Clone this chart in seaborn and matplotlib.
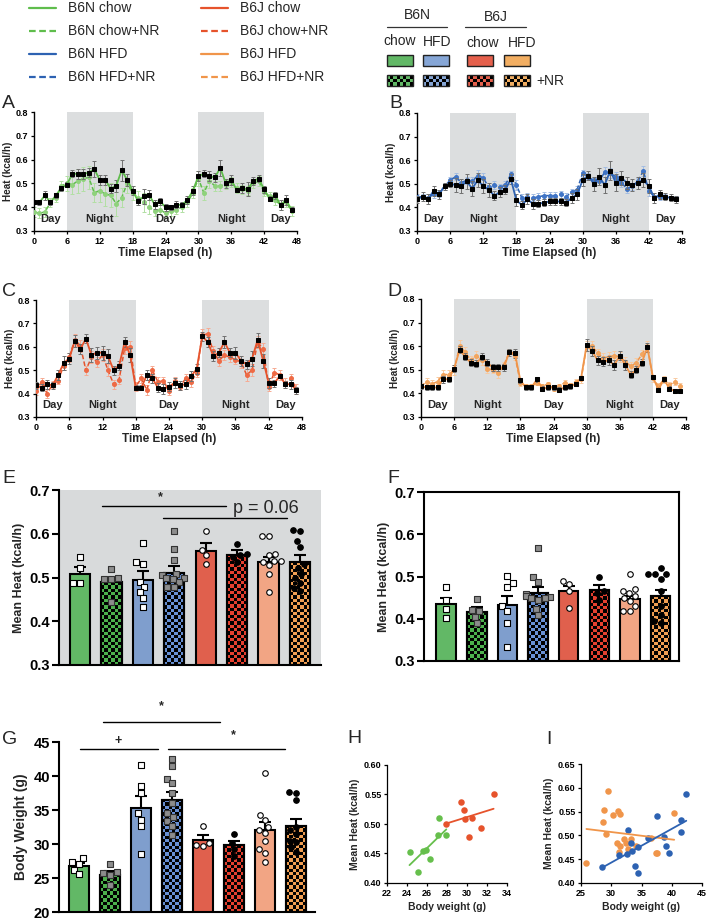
import numpy as np
import pandas as pd
import seaborn as sns
import matplotlib.pyplot as plt
from matplotlib.lines import Line2D
from matplotlib.patches import Rectangle
from matplotlib.colors import ListedColormap
from matplotlib.ticker import FormatStrFormatter

W, H = 708, 919

# ---------------- time course data (hourly, 0-47 h) ----------------
hours = list(range(48))
night_spans = [(6, 18), (30, 42)]
phase_labels = [(3, 'Day'), (12, 'Night'), (24, 'Day'), (36, 'Night'), (45, 'Day')]

# A: B6N chow vs chow+NR
a_ctrl = [0.422, 0.42, 0.45, 0.42, 0.45, 0.48, 0.495, 0.54, 0.54, 0.54, 0.545, 0.56,
          0.515, 0.515, 0.478, 0.49, 0.555, 0.515, 0.47, 0.425, 0.445, 0.452, 0.412, 0.425,
          0.40, 0.40, 0.41, 0.41, 0.43, 0.47, 0.53, 0.54, 0.53, 0.525, 0.565, 0.50,
          0.515, 0.472, 0.48, 0.475, 0.51, 0.52, 0.475, 0.435, 0.45, 0.41, 0.43, 0.39]
a_ctrl_err = [0.01, 0.01, 0.02, 0.01, 0.01, 0.01, 0.01, 0.015, 0.02, 0.02, 0.02, 0.035,
              0.02, 0.02, 0.02, 0.025, 0.045, 0.025, 0.02, 0.015, 0.03, 0.02, 0.02, 0.015,
              0.015, 0.01, 0.015, 0.01, 0.015, 0.02, 0.02, 0.015, 0.02, 0.02, 0.035, 0.02,
              0.02, 0.01, 0.02, 0.03, 0.015, 0.015, 0.015, 0.01, 0.015, 0.02, 0.02, 0.01]
a_nr = [0.38, 0.375, 0.38, 0.42, 0.44, 0.49, 0.50, 0.495, 0.51, 0.52, 0.525, 0.46,
        0.47, 0.455, 0.45, 0.415, 0.44, 0.50, 0.46, 0.44, 0.42, 0.40, 0.385, 0.39,
        0.375, 0.385, 0.39, 0.40, 0.42, 0.46, 0.52, 0.46, 0.51, 0.49, 0.49, 0.495,
        0.505, 0.48, 0.475, 0.47, 0.50, 0.51, 0.465, 0.445, 0.43, 0.41, 0.42, 0.385]
a_nr_err = [0.02, 0.02, 0.02, 0.02, 0.02, 0.02, 0.03, 0.04, 0.05, 0.05, 0.05, 0.04,
            0.05, 0.05, 0.05, 0.05, 0.04, 0.04, 0.03, 0.03, 0.04, 0.03, 0.02, 0.02,
            0.02, 0.02, 0.02, 0.02, 0.02, 0.02, 0.03, 0.03, 0.03, 0.02, 0.02, 0.02,
            0.02, 0.02, 0.02, 0.02, 0.02, 0.02, 0.02, 0.02, 0.02, 0.02, 0.02, 0.02]

# B: B6N HFD vs HFD+NR
b_ctrl = [0.435, 0.445, 0.435, 0.47, 0.455, 0.49, 0.50, 0.495, 0.49, 0.51, 0.48, 0.515,
          0.49, 0.475, 0.45, 0.465, 0.475, 0.52, 0.43, 0.41, 0.435, 0.415, 0.415, 0.42,
          0.425, 0.425, 0.425, 0.42, 0.44, 0.455, 0.515, 0.535, 0.50, 0.53, 0.495, 0.555,
          0.505, 0.525, 0.505, 0.495, 0.505, 0.515, 0.49, 0.44, 0.455, 0.445, 0.44, 0.435]
b_ctrl_err = [0.015, 0.02, 0.02, 0.02, 0.02, 0.015, 0.015, 0.03, 0.03, 0.03, 0.03, 0.03,
              0.03, 0.03, 0.02, 0.02, 0.02, 0.02, 0.025, 0.015, 0.02, 0.02, 0.015, 0.015,
              0.015, 0.015, 0.015, 0.015, 0.02, 0.025, 0.025, 0.02, 0.03, 0.035, 0.035, 0.04,
              0.035, 0.03, 0.025, 0.025, 0.025, 0.03, 0.03, 0.02, 0.02, 0.015, 0.015, 0.015]
b_nr = [0.445, 0.445, 0.44, 0.455, 0.46, 0.49, 0.515, 0.53, 0.505, 0.515, 0.51, 0.535,
        0.525, 0.485, 0.495, 0.485, 0.495, 0.54, 0.495, 0.44, 0.445, 0.44, 0.445, 0.45,
        0.45, 0.45, 0.455, 0.445, 0.465, 0.475, 0.545, 0.53, 0.515, 0.51, 0.55, 0.545,
        0.53, 0.505, 0.48, 0.49, 0.51, 0.555, 0.47, 0.445, 0.445, 0.445, 0.44, 0.44]
b_nr_err = [0.01, 0.01, 0.015, 0.015, 0.015, 0.015, 0.015, 0.015, 0.015, 0.015, 0.02, 0.025,
            0.02, 0.02, 0.015, 0.015, 0.015, 0.015, 0.02, 0.015, 0.015, 0.015, 0.015, 0.015,
            0.015, 0.015, 0.015, 0.015, 0.015, 0.015, 0.015, 0.015, 0.015, 0.015, 0.02, 0.02,
            0.02, 0.02, 0.02, 0.015, 0.015, 0.02, 0.02, 0.015, 0.015, 0.01, 0.01, 0.01]

# C: B6J chow vs chow+NR
c_ctrl = [0.435, 0.425, 0.44, 0.435, 0.48, 0.53, 0.55, 0.625, 0.59, 0.635, 0.565, 0.575,
          0.575, 0.56, 0.50, 0.52, 0.62, 0.565, 0.425, 0.425, 0.48, 0.465, 0.425, 0.42,
          0.43, 0.445, 0.435, 0.44, 0.475, 0.505, 0.645, 0.62, 0.56, 0.575, 0.62, 0.575,
          0.575, 0.54, 0.525, 0.55, 0.63, 0.54, 0.445, 0.445, 0.475, 0.44, 0.44, 0.415]
c_ctrl_err = [0.015, 0.015, 0.02, 0.015, 0.02, 0.03, 0.025, 0.025, 0.02, 0.02, 0.03, 0.025,
              0.03, 0.03, 0.02, 0.02, 0.02, 0.03, 0.01, 0.01, 0.02, 0.02, 0.02, 0.02,
              0.02, 0.02, 0.02, 0.02, 0.02, 0.02, 0.02, 0.02, 0.02, 0.02, 0.025, 0.02,
              0.025, 0.02, 0.02, 0.03, 0.03, 0.03, 0.02, 0.015, 0.01, 0.015, 0.02, 0.015]
c_nr = [0.41, 0.45, 0.40, 0.44, 0.455, 0.52, 0.555, 0.63, 0.605, 0.50, 0.555, 0.535,
        0.565, 0.50, 0.44, 0.46, 0.595, 0.60, 0.43, 0.465, 0.415, 0.50, 0.45, 0.455,
        0.41, 0.455, 0.43, 0.465, 0.45, 0.49, 0.65, 0.655, 0.58, 0.54, 0.565, 0.555,
        0.545, 0.535, 0.48, 0.50, 0.62, 0.59, 0.43, 0.49, 0.48, 0.445, 0.465, 0.42]
c_nr_err = [0.015, 0.015, 0.02, 0.015, 0.015, 0.02, 0.02, 0.025, 0.025, 0.02, 0.025, 0.02,
            0.025, 0.025, 0.02, 0.02, 0.025, 0.025, 0.02, 0.02, 0.02, 0.02, 0.02, 0.015,
            0.015, 0.015, 0.015, 0.02, 0.02, 0.02, 0.025, 0.025, 0.025, 0.02, 0.02, 0.02,
            0.02, 0.025, 0.025, 0.025, 0.025, 0.025, 0.02, 0.02, 0.02, 0.02, 0.02, 0.02]

# D: B6J HFD vs HFD+NR
d_ctrl = [0.43, 0.425, 0.425, 0.425, 0.46, 0.46, 0.505, 0.585, 0.555, 0.53, 0.525, 0.555,
          0.53, 0.51, 0.51, 0.51, 0.575, 0.57, 0.455, 0.425, 0.425, 0.46, 0.42, 0.425,
          0.425, 0.415, 0.425, 0.43, 0.44, 0.465, 0.605, 0.58, 0.54, 0.535, 0.54, 0.52,
          0.56, 0.52, 0.48, 0.50, 0.53, 0.595, 0.47, 0.415, 0.46, 0.42, 0.41, 0.41]
d_ctrl_err = [0.01, 0.01, 0.01, 0.01, 0.015, 0.01, 0.015, 0.015, 0.015, 0.015, 0.015, 0.015,
              0.015, 0.015, 0.015, 0.015, 0.015, 0.02, 0.01, 0.01, 0.01, 0.01, 0.01, 0.01,
              0.01, 0.01, 0.01, 0.01, 0.01, 0.01, 0.025, 0.02, 0.02, 0.02, 0.02, 0.02,
              0.02, 0.02, 0.015, 0.015, 0.015, 0.02, 0.01, 0.01, 0.01, 0.01, 0.01, 0.01]
d_nr = [0.43, 0.45, 0.44, 0.45, 0.48, 0.48, 0.50, 0.60, 0.575, 0.54, 0.56, 0.54,
        0.505, 0.50, 0.485, 0.52, 0.575, 0.56, 0.445, 0.43, 0.43, 0.445, 0.43, 0.44,
        0.42, 0.43, 0.445, 0.435, 0.45, 0.46, 0.60, 0.60, 0.57, 0.55, 0.555, 0.56,
        0.555, 0.535, 0.515, 0.53, 0.565, 0.60, 0.465, 0.43, 0.46, 0.435, 0.45, 0.43]
d_nr_err = [0.01, 0.015, 0.015, 0.02, 0.02, 0.02, 0.02, 0.025, 0.02, 0.02, 0.02, 0.02,
            0.02, 0.015, 0.02, 0.015, 0.015, 0.02, 0.015, 0.01, 0.01, 0.01, 0.01, 0.01,
            0.01, 0.01, 0.01, 0.01, 0.01, 0.015, 0.02, 0.02, 0.02, 0.02, 0.02, 0.02,
            0.02, 0.02, 0.02, 0.02, 0.02, 0.02, 0.015, 0.015, 0.015, 0.015, 0.015, 0.015]

# ---------------- bar panels ----------------
groups = ['B6N chow', 'B6N chow+NR', 'B6N HFD', 'B6N HFD+NR',
          'B6J chow', 'B6J chow+NR', 'B6J HFD', 'B6J HFD+NR']
bar_colors = ['#62b866', '#4cb04c', '#7f9ecd', '#6890d4',
              '#e0604d', '#e5402f', '#f2a584', '#f09e52']
checkered = [False, True, False, True, False, True, False, True]
point_marker = ['s', 's', 's', 's', 'o', 'o', 'o', 'o']
point_fill = ['white', '#8c8c8c', 'white', '#8c8c8c', 'white', 'black', 'white', 'black']

# E: mean heat, night
e_mean = [0.508, 0.489, 0.495, 0.511, 0.561, 0.552, 0.536, 0.535]
e_sem = [0.016, 0.010, 0.020, 0.015, 0.017, 0.012, 0.012, 0.017]
e_points = [[0.547, 0.522, 0.487, 0.488],
            [0.519, 0.498, 0.496, 0.497, 0.445],
            [0.578, 0.535, 0.531, 0.49, 0.479, 0.467, 0.453, 0.433],
            [0.606, 0.565, 0.541, 0.509, 0.505, 0.50, 0.498, 0.496, 0.49, 0.479, 0.479],
            [0.606, 0.564, 0.551, 0.531],
            [0.576, 0.553, 0.551, 0.547, 0.535],
            [0.594, 0.594, 0.553, 0.551, 0.538, 0.537, 0.536, 0.528, 0.508, 0.467],
            [0.608, 0.606, 0.584, 0.57, 0.53, 0.521, 0.507, 0.498, 0.487, 0.476, 0.47]]
e_sig_lines = [(0.7, 4.65, 0.664), (2.65, 6.6, 0.637)]
e_sig_text = [(2.55, 0.683, '*'), (5.9, 0.658, 'p = 0.06')]

# F: mean heat, day
f_mean = [0.434, 0.415, 0.433, 0.461, 0.466, 0.468, 0.446, 0.453]
f_sem = [0.015, 0.012, 0.022, 0.015, 0.012, 0.011, 0.008, 0.016]
f_points = [[0.474, 0.444, 0.423, 0.401],
            [0.446, 0.42, 0.418, 0.405, 0.39],
            [0.502, 0.484, 0.474, 0.43, 0.419, 0.391, 0.334],
            [0.567, 0.5, 0.488, 0.458, 0.455, 0.452, 0.45, 0.448, 0.445, 0.423, 0.408],
            [0.49, 0.482, 0.466, 0.425],
            [0.499, 0.466, 0.46, 0.445],
            [0.507, 0.47, 0.466, 0.46, 0.453, 0.45, 0.443, 0.429, 0.418, 0.418],
            [0.52, 0.505, 0.505, 0.505, 0.495, 0.466, 0.43, 0.41, 0.395, 0.39]]

# G: body weight
g_mean = [26.8, 25.5, 35.3, 36.5, 30.6, 29.8, 32.0, 32.7]
g_sem = [0.45, 0.6, 1.7, 1.2, 0.7, 0.7, 1.2, 1.0]
g_points = [[27.9, 27.3, 27.1, 26.2, 25.6],
            [27.1, 25.9, 25.7, 25.5, 24.0],
            [41.6, 38.6, 37.5, 34.5, 33.6, 32.6, 28.5],
            [42.5, 41.5, 39.6, 39.0, 37.5, 36.0, 34.6, 34.0, 33.4, 32.7, 31.3],
            [32.7, 30.2, 29.8, 29.7],
            [31.4, 30.2, 29.3, 28.3],
            [40.4, 34.2, 33.6, 32.5, 32.0, 31.6, 30.5, 29.2, 28.7, 27.4],
            [37.6, 37.5, 36.5, 32.5, 32.0, 31.5, 30.5, 30.3, 29.5, 28.8]]
g_sig_lines = [(0.78, 4.54, 47.9), (0.03, 2.55, 43.9), (2.85, 6.63, 43.9)]
g_sig_text = [(2.65, 50.3, '*'), (1.26, 45.2, '+'), (4.98, 46.0, '*')]

# ---------------- scatter panels ----------------
h_b6n_x = [24.25, 25.12, 25.59, 25.86, 26.32, 27.13, 27.2, 27.93]
h_b6n_y = [0.453, 0.418, 0.454, 0.456, 0.441, 0.482, 0.511, 0.481]
h_b6j_x = [27.93, 29.38, 29.71, 29.81, 30.21, 30.45, 31.39, 32.66]
h_b6j_y = [0.500, 0.538, 0.524, 0.508, 0.478, 0.510, 0.494, 0.550]

i_b6j_x = [25.9, 28.7, 28.8, 29.2, 29.5, 30.3, 31.1, 31.4, 31.0, 31.4,
           31.3, 32.1, 32.5, 32.8, 33.3, 34.1, 36.5, 37.4, 37.6, 40.4]
i_b6j_y = [0.441, 0.528, 0.553, 0.502, 0.594, 0.542, 0.551, 0.544, 0.485, 0.477,
           0.466, 0.493, 0.485, 0.471, 0.493, 0.477, 0.495, 0.462, 0.464, 0.548]
i_b6n_x = [28.5, 31.3, 32.6, 32.7, 33.3, 33.4, 34.0, 34.5, 34.5,
           36.1, 37.6, 38.7, 39.0, 39.6, 41.5, 41.5, 42.4]
i_b6n_y = [0.433, 0.458, 0.460, 0.512, 0.485, 0.468, 0.436, 0.475, 0.421,
           0.495, 0.540, 0.497, 0.477, 0.462, 0.533, 0.508, 0.586]

GREEN, BLUE, RED, ORANGE = '#5fbd4c', '#2d62b2', '#e6532c', '#f0954a'
SHADE = '#dcdedf'

sns.set_style('ticks')
plt.rcParams['font.family'] = ['Liberation Sans', 'DejaVu Sans']
plt.rcParams['font.weight'] = 'bold'
plt.rcParams['axes.labelweight'] = 'bold'
plt.rcParams['axes.edgecolor'] = 'black'
plt.rcParams['xtick.color'] = 'black'
plt.rcParams['ytick.color'] = 'black'

fig = plt.figure(figsize=(W / 100, H / 100), dpi=100)


def px_rect(l, t, r, b):
    return [l / W, 1 - b / H, (r - l) / W, (b - t) / H]


def checker_fill(ax, x0, y0, w, h, color, n_cols):
    # colour/black checkerboard inside a rectangle, squares kept square on screen
    (p0x, p0y), (p1x, p1y) = ax.transData.transform([(x0, y0), (x0 + w, y0 + h)])
    sq = abs(p1x - p0x) / n_cols
    n_rows = max(1, int(round(abs(p1y - p0y) / sq)))
    grid = np.add.outer(np.arange(n_rows), np.arange(n_cols)) % 2
    ax.imshow(grid, extent=(x0, x0 + w, y0, y0 + h), origin='lower',
              cmap=ListedColormap([color, 'black']), aspect='auto',
              interpolation='nearest', zorder=1.1)


def time_panel(ax, ctrl, ctrl_err, nr, nr_err, col, nr_col, nr_ecol):
    for start, stop in night_spans:
        ax.axvspan(start, stop, color=SHADE, lw=0, zorder=0)
    ax.errorbar(hours, nr, yerr=nr_err, fmt='none', ecolor=nr_ecol, elinewidth=0.7,
                capsize=1.2, capthick=0.7, zorder=2)
    sns.lineplot(x=hours, y=nr, ax=ax, color=col, ls=(0, (3, 1.5)), lw=1.1,
                 marker='o', markersize=2.8, markerfacecolor=nr_col,
                 markeredgecolor=nr_col, zorder=3)
    ax.errorbar(hours, ctrl, yerr=ctrl_err, fmt='none', ecolor='#707070', elinewidth=0.7,
                capsize=1.2, capthick=0.7, zorder=4)
    sns.lineplot(x=hours, y=ctrl, ax=ax, color=col, lw=1.3, marker='s', markersize=2.8,
                 markerfacecolor='black', markeredgecolor='black', zorder=5)
    for hr, txt in phase_labels:
        ax.text(hr, 0.35, txt, ha='center', va='center', fontsize=8, fontweight='bold')
    ax.set_xlim(0, 48)
    ax.set_ylim(0.3, 0.8)
    ax.set_xticks(range(0, 49, 6))
    ax.set_yticks([0.3, 0.4, 0.5, 0.6, 0.7, 0.8])
    ax.yaxis.set_major_formatter(FormatStrFormatter('%.1f'))
    ax.set_xlabel('Time Elapsed (h)', fontsize=8.5, labelpad=1)
    ax.set_ylabel('Heat (kcal/h)', fontsize=7.2, labelpad=2)
    ax.tick_params(labelsize=6.5, length=2.5, width=0.9, pad=1.5)
    sns.despine(ax=ax)
    for s in ax.spines.values():
        s.set_linewidth(1.0)


def bar_panel(ax, means, sems, points, ylim, yticks, fmt, ylabel, xlim, box=False):
    sns.barplot(x=groups, y=means, hue=groups, palette=bar_colors, legend=False,
                saturation=1, width=0.64, edgecolor='black', linewidth=1.5,
                errorbar=None, ax=ax)
    ax.errorbar(range(len(groups)), means, yerr=sems, fmt='none', ecolor='black',
                elinewidth=1.5, capsize=4, capthick=1.5, zorder=0.9)
    long = pd.DataFrame([(g, v) for g, vals in zip(groups, points) for v in vals],
                        columns=['group', 'value'])
    styles = {}
    for g, m, f in zip(groups, point_marker, point_fill):
        styles.setdefault((m, f), []).append(g)
    for (m, f), members in styles.items():
        sub = long[long['group'].isin(members)]
        edge = '#333333' if f == '#8c8c8c' else 'black'
        sns.swarmplot(data=sub, x='group', y='value', order=groups, marker=m, color=f,
                      edgecolor=edge, linewidth=0.8, size=4, ax=ax, zorder=5)
    ax.set_xlim(*xlim)
    ax.set_ylim(*ylim)
    bars = sorted([p for p in ax.patches], key=lambda p: p.get_x())
    for bar, col, chk in zip(bars, bar_colors, checkered):
        if chk:
            x0, w = bar.get_x(), bar.get_width()
            y0 = max(bar.get_y(), ylim[0])
            top = bar.get_y() + bar.get_height()
            checker_fill(ax, x0, y0, w, top - y0, col, 6)
            ax.add_patch(Rectangle((x0, y0), w, top - y0,
                                   fill=False, ec='black', lw=1.5, zorder=1.2))
    ax.set_xlim(*xlim)
    ax.set_ylim(*ylim)
    ax.set_yticks(yticks)
    ax.yaxis.set_major_formatter(FormatStrFormatter(fmt))
    ax.tick_params(axis='x', bottom=False, labelbottom=False)
    ax.tick_params(axis='y', labelsize=10.5, length=5, width=1.5, pad=1.5)
    ax.set_xlabel('')
    ax.set_ylabel(ylabel, fontsize=9, labelpad=3)
    if not box:
        sns.despine(ax=ax)
    for s in ax.spines.values():
        s.set_linewidth(1.5)


def scatter_panel(ax, sets, xlim, xticks, ylim, yticks):
    for xs, ys, col in sets:
        sns.regplot(x=xs, y=ys, ci=None, color=col, ax=ax, truncate=True,
                    scatter_kws=dict(s=22, linewidths=0, alpha=1),
                    line_kws=dict(lw=1.3))
    ax.set_xlim(*xlim)
    ax.set_ylim(*ylim)
    ax.set_xticks(xticks)
    ax.set_yticks(yticks)
    ax.yaxis.set_major_formatter(FormatStrFormatter('%.2f'))
    ax.set_xlabel('Body weight (g)', fontsize=7.5, labelpad=3)
    ax.set_ylabel('Mean Heat (kcal/h)', fontsize=7.5, labelpad=3)
    ax.tick_params(labelsize=6.5, length=2.5, width=0.9, pad=1.5)
    sns.despine(ax=ax)
    for s in ax.spines.values():
        s.set_linewidth(0.9)


# ---------- top-right box legend (overlay axes in pixel units) ----------
ov = fig.add_axes([0, 0, 1, 1])
ov.set_xlim(0, W)
ov.set_ylim(H, 0)
ov.axis('off')
box_cols = ['#62b866', '#86a6d6', '#e5604c', '#f2ae62']
box_left = [387, 423, 467, 504]
for bx, col in zip(box_left, box_cols):
    ov.add_patch(Rectangle((bx, 55), 26, 11, fc=col, ec='#222222', lw=1.0, zorder=2))
    checker_fill(ov, bx, 86, 26, -11, col, 8)
    ov.add_patch(Rectangle((bx, 75), 26, 11, fill=False, ec='#222222', lw=1.0, zorder=2))
ov.set_xlim(0, W)
ov.set_ylim(H, 0)
for (x0, x1, xc, lab) in [(387, 447, 417, 'B6N'), (465, 526, 496, 'B6J')]:
    ov.plot([x0, x1], [27, 27], color='#333333', lw=0.9)
    ov.text(xc, 22 if lab == 'B6N' else 24, lab, ha='center', va='bottom', fontsize=10,
            fontweight='normal')
for xc, yc, lab in [(400, 41, 'chow'), (437, 42, 'HFD'), (483, 43, 'chow'), (522, 43, 'HFD')]:
    ov.text(xc, yc, lab, ha='center', va='center', fontsize=10, fontweight='normal')
ov.text(536, 81, '+NR', ha='left', va='center', fontsize=10, fontweight='normal')

# ---------- top-left line legend ----------
handles = [Line2D([], [], color=GREEN, lw=1.6),
           Line2D([], [], color=GREEN, lw=1.6, ls=(0, (3, 1.6))),
           Line2D([], [], color=BLUE, lw=1.6),
           Line2D([], [], color=BLUE, lw=1.6, ls=(0, (3, 1.6))),
           Line2D([], [], color=RED, lw=1.6),
           Line2D([], [], color=RED, lw=1.6, ls=(0, (3, 1.6))),
           Line2D([], [], color=ORANGE, lw=1.6),
           Line2D([], [], color=ORANGE, lw=1.6, ls=(0, (3, 1.6)))]
labels = ['B6N chow', 'B6N chow+NR', 'B6N HFD', 'B6N HFD+NR',
          'B6J chow', 'B6J chow+NR', 'B6J HFD', 'B6J HFD+NR']
fig.legend(handles, labels, ncol=2, loc='upper left', bbox_to_anchor=(28 / W, 1.0),
           frameon=False, prop={'size': 10, 'weight': 'normal'}, handlelength=1.9,
           handletextpad=0.9, labelspacing=0.65, columnspacing=3.0, borderpad=0.1,
           borderaxespad=0)

# ---------- time course panels ----------
axA = fig.add_axes(px_rect(34, 112, 297, 231))
time_panel(axA, a_ctrl, a_ctrl_err, a_nr, a_nr_err, GREEN, '#8fd27c', '#b2e0a4')
axB = fig.add_axes(px_rect(417, 113, 682, 231))
time_panel(axB, b_ctrl, b_ctrl_err, b_nr, b_nr_err, BLUE, '#3f74c6', '#a4bde3')
axC = fig.add_axes(px_rect(36, 300, 302, 417))
time_panel(axC, c_ctrl, c_ctrl_err, c_nr, c_nr_err, RED, '#ee6a45', '#f6ab93')
axD = fig.add_axes(px_rect(421, 299, 686, 417))
time_panel(axD, d_ctrl, d_ctrl_err, d_nr, d_nr_err, ORANGE, '#f3a55e', '#f8cba2')

# ---------- bar panels ----------
axE = fig.add_axes(px_rect(59, 490, 321, 665))
axE.set_facecolor('#d8dadb')
bar_panel(axE, e_mean, e_sem, e_points, (0.3, 0.7), [0.3, 0.4, 0.5, 0.6, 0.7], '%.1f',
          'Mean Heat (kcal/h)', (-0.67, 7.67))
for x0, x1, y in e_sig_lines:
    axE.plot([x0, x1], [y, y], color='black', lw=1.0, zorder=6)
for x, y, txt in e_sig_text:
    axE.text(x, y, txt, ha='center', va='center', zorder=6,
             fontsize=9 if txt == '*' else 13, fontweight='bold' if txt == '*' else 'normal')

axF = fig.add_axes(px_rect(424, 492, 679, 661))
bar_panel(axF, f_mean, f_sem, f_points, (0.3, 0.7), [0.3, 0.4, 0.5, 0.6, 0.7], '%.1f',
          'Mean Heat (kcal/h)', (-0.72, 7.6), box=True)

axG = fig.add_axes(px_rect(59, 742, 315, 912))
bar_panel(axG, g_mean, g_sem, g_points, (20, 45), [20, 25, 30, 35, 40, 45], '%d',
          'Body Weight (g)', (-0.65, 7.6))
axG.set_ylabel('Body Weight (g)', fontsize=10, labelpad=4)
for x0, x1, y in g_sig_lines:
    axG.plot([x0, x1], [y, y], color='black', lw=1.0, clip_on=False, zorder=6)
for x, y, txt in g_sig_text:
    axG.text(x, y, txt, ha='center', va='center', fontsize=9, fontweight='bold', clip_on=False)

# ---------- scatter panels ----------
axH = fig.add_axes(px_rect(387, 765, 507, 883))
scatter_panel(axH, [(h_b6n_x, h_b6n_y, '#66bf4c'), (h_b6j_x, h_b6j_y, RED)],
              (22, 34), range(22, 35, 2), (0.40, 0.60), [0.40, 0.45, 0.50, 0.55, 0.60])
axI = fig.add_axes(px_rect(581, 764, 702, 883))
scatter_panel(axI, [(i_b6j_x, i_b6j_y, ORANGE), (i_b6n_x, i_b6n_y, BLUE)],
              (25, 45), range(25, 46, 5), (0.40, 0.65),
              [0.40, 0.45, 0.50, 0.55, 0.60, 0.65])

# ---------- panel letters ----------
for x, y, lab in [(2, 108, 'A'), (389, 108, 'B'), (2, 296, 'C'), (387, 296, 'D'),
                  (2, 483, 'E'), (387, 483, 'F'), (2, 744, 'G'), (347, 743, 'H'),
                  (546, 744, 'I')]:
    fig.text(x / W, 1 - y / H, lab, fontsize=14, fontweight='normal', va='baseline')

fig.savefig('out.png', dpi=100)
